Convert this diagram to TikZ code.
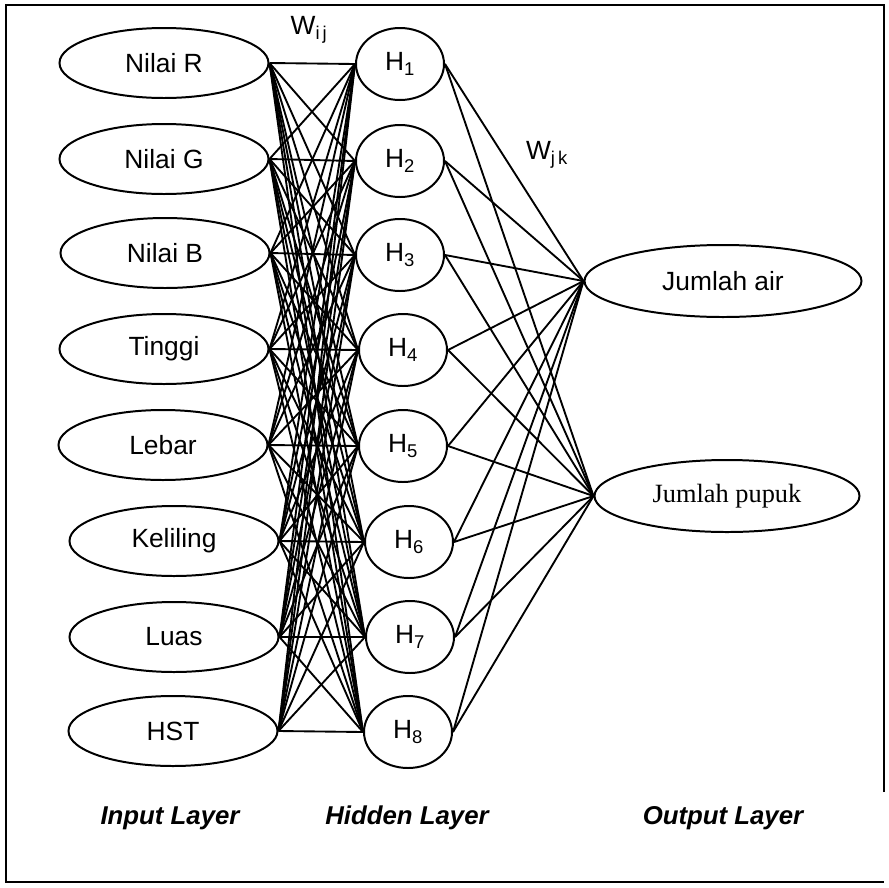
\documentclass[tikz,border=0pt]{standalone}
\usepackage{fontspec}
\setmainfont{Liberation Sans}
\newfontfamily\pupukfont{Liberation Serif}
\usetikzlibrary{shapes.geometric}
\tikzset{
  inlayer/.style={ellipse,draw,line width=1.7pt,minimum width=6.27cm,minimum height=2.1cm,inner sep=0pt},
  hidlayer/.style={ellipse,draw,line width=1.7pt,minimum width=2.64cm,minimum height=2.16cm,inner sep=0pt},
  outlayer/.style={ellipse,draw,line width=1.7pt,minimum height=2.16cm,inner sep=0pt},
  wlabel/.style={inner sep=0pt},
  layername/.style={inner sep=0pt,font=\fontsize{22}{26}\selectfont\bfseries\itshape},
  link/.style={line width=1.6pt}
}

\begin{document}
\begin{tikzpicture}[x=0.03cm,y=-0.03cm,font=\fontsize{22.5}{26}\selectfont]
                    \useasboundingbox (0,0) rectangle (889,887);
                    \draw[line width=2.2pt] (884,792) -- (884,5) -- (6,5) -- (6,882) -- (884,882);
                    \node[inlayer] (in1) at (164,63) {Nilai R};
                    \node[inlayer] (in2) at (164,159) {Nilai G};
                    \node[inlayer] (in3) at (165,253) {Nilai B};
                    \node[inlayer] (in4) at (164,349) {Tinggi};
                    \node[inlayer] (in5) at (163,445) {Lebar};
                    \node[inlayer] (in6) at (174,541) {Keliling};
                    \node[inlayer] (in7) at (174,637) {Luas};
                    \node[inlayer] (in8) at (173,731) {HST};
                    \node[hidlayer] (hid1) at (400,64) {H\textsubscript{1}};
                    \node[hidlayer] (hid2) at (400,161) {H\textsubscript{2}};
                    \node[hidlayer] (hid3) at (400,255) {H\textsubscript{3}};
                    \node[hidlayer] (hid4) at (403,350) {H\textsubscript{4}};
                    \node[hidlayer] (hid5) at (403,446) {H\textsubscript{5}};
                    \node[hidlayer] (hid6) at (409,542) {H\textsubscript{6}};
                    \node[hidlayer] (hid7) at (410,637) {H\textsubscript{7}};
                    \node[hidlayer] (hid8) at (408,732) {H\textsubscript{8}};
                    \node[outlayer,minimum width=8.31cm] (out1) at (723,281) {Jumlah air};
                    \node[outlayer,minimum width=7.95cm] (out2) at (727,496) {\pupukfont Jumlah pupuk};
                    \foreach \i in {1,...,8}
                      \foreach \j in {1,...,8}
                        \draw[link] (in\i.east) -- (hid\j.west);
                    \foreach \j in {1,...,8}
                      \foreach \k in {1,2}
                        \draw[link] (hid\j.east) -- (out\k.west);
                    \node[wlabel] (wij) at (309,30) {W\textsubscript{i\,j}};
                    \node[wlabel] (wjk) at (547,155) {W\textsubscript{j\,k}};
                    \node[layername] (inname) at (170,818) {Input Layer};
                    \node[layername] (hidname) at (407,818) {Hidden Layer};
                    \node[layername] (outname) at (723,818) {Output Layer};
                  \end{tikzpicture}
\end{document}
